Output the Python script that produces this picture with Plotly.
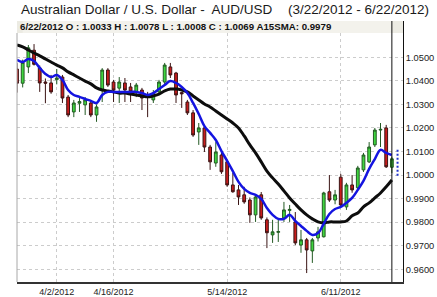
import plotly.graph_objects as go

dates = ["3/22/2012", "3/23/2012", "3/26/2012", "3/27/2012", "3/28/2012", "3/29/2012", "3/30/2012",
         "4/2/2012", "4/3/2012", "4/4/2012", "4/5/2012", "4/6/2012",
         "4/9/2012", "4/10/2012", "4/11/2012", "4/12/2012", "4/13/2012",
         "4/16/2012", "4/17/2012", "4/18/2012", "4/19/2012", "4/20/2012",
         "4/23/2012", "4/24/2012", "4/25/2012", "4/26/2012", "4/27/2012",
         "4/30/2012", "5/1/2012", "5/2/2012", "5/3/2012", "5/4/2012",
         "5/7/2012", "5/8/2012", "5/9/2012", "5/10/2012", "5/11/2012",
         "5/14/2012", "5/15/2012", "5/16/2012", "5/17/2012", "5/18/2012",
         "5/21/2012", "5/22/2012", "5/23/2012", "5/24/2012", "5/25/2012",
         "5/28/2012", "5/29/2012", "5/30/2012", "5/31/2012", "6/1/2012",
         "6/4/2012", "6/5/2012", "6/6/2012", "6/7/2012", "6/8/2012",
         "6/11/2012", "6/12/2012", "6/13/2012", "6/14/2012", "6/15/2012",
         "6/18/2012", "6/19/2012", "6/20/2012", "6/21/2012", "6/22/2012"]

opens = [1.0450, 1.0390, 1.0459, 1.0530, 1.0455, 1.0395, 1.0391,
         1.0405, 1.0416, 1.0331, 1.0268, 1.0305,
         1.0298, 1.0306, 1.0255, 1.0361, 1.0446,
         1.0395, 1.0369, 1.0391, 1.0374, 1.0353,
         1.0361, 1.0340, 1.0319, 1.0353, 1.0395,
         1.0459, 1.0433, 1.0350, 1.0310, 1.0264,
         1.0183, 1.0200, 1.0119, 1.0051, 1.0085,
         1.0056, 0.9958, 0.9937, 0.9916, 0.9894,
         0.9831, 0.9916, 0.9810, 0.9746, 0.9757,
         0.9818, 0.9850, 0.9801, 0.9703, 0.9725,
         0.9678, 0.9733, 0.9738, 0.9929, 0.9894,
         0.9991, 0.9865, 0.9958, 0.9946, 1.0022,
         1.0056, 1.0128, 1.0191, 1.0200, 1.0033]
highs = [1.0475, 1.0490, 1.0552, 1.0556, 1.0465, 1.0410, 1.0425,
         1.0450, 1.0425, 1.0340, 1.0319, 1.0327,
         1.0331, 1.0319, 1.0300, 1.0454, 1.0454,
         1.0404, 1.0416, 1.0412, 1.0391, 1.0391,
         1.0370, 1.0353, 1.0361, 1.0404, 1.0476,
         1.0476, 1.0438, 1.0353, 1.0319, 1.0276,
         1.0221, 1.0213, 1.0128, 1.0140, 1.0094,
         1.0064, 1.0009, 0.9958, 0.9950, 0.9905,
         0.9916, 0.9928, 0.9820, 0.9810, 0.9810,
         0.9886, 0.9873, 0.9843, 0.9767, 0.9733,
         0.9733, 0.9780, 0.9929, 1.0000, 0.9937,
         1.0005, 0.9967, 1.0000, 1.0039, 1.0094,
         1.0140, 1.0200, 1.0221, 1.0213, 1.0078]
lows = [1.0350, 1.0372, 1.0433, 1.0465, 1.0353, 1.0305, 1.0345,
        1.0385, 1.0306, 1.0246, 1.0246, 1.0268,
        1.0255, 1.0246, 1.0226, 1.0310, 1.0374,
        1.0310, 1.0306, 1.0310, 1.0310, 1.0331,
        1.0276, 1.0246, 1.0306, 1.0340, 1.0382,
        1.0412, 1.0306, 1.0285, 1.0255, 1.0162,
        1.0128, 1.0098, 1.0022, 1.0035, 1.0005,
        0.9950, 0.9925, 0.9873, 0.9878, 0.9797,
        0.9801, 0.9810, 0.9690, 0.9712, 0.9716,
        0.9801, 0.9801, 0.9703, 0.9670, 0.9584,
        0.9627, 0.9718, 0.9735, 0.9886, 0.9876,
        0.9865, 0.9852, 0.9925, 0.9937, 1.0013,
        1.0051, 1.0119, 1.0119, 1.0030, 1.0008]
closes = [1.0390, 1.0478, 1.0540, 1.0470, 1.0391, 1.0390, 1.0353,
          1.0412, 1.0327, 1.0255, 1.0306, 1.0312,
          1.0319, 1.0255, 1.0289, 1.0446, 1.0382,
          1.0361, 1.0395, 1.0361, 1.0353, 1.0382,
          1.0327, 1.0335, 1.0348, 1.0395, 1.0467,
          1.0425, 1.0340, 1.0345, 1.0264, 1.0170,
          1.0200, 1.0119, 1.0056, 1.0098, 1.0014,
          0.9958, 0.9929, 0.9907, 0.9886, 0.9831,
          0.9907, 0.9818, 0.9755, 0.9759, 0.9760,
          0.9852, 0.9854, 0.9712, 0.9725, 0.9682,
          0.9725, 0.9759, 0.9924, 0.9894, 0.9916,
          0.9873, 0.9958, 0.9937, 1.0030, 1.0085,
          1.0119, 1.0191, 1.0194, 1.0035, 1.0069]

short_sma = [1.0489, 1.0480, 1.0493, 1.0484, 1.0455, 1.0429, 1.0416,
             1.0425, 1.0404, 1.0361, 1.0340, 1.0332,
             1.0323, 1.0315, 1.0306, 1.0340, 1.0353,
             1.0353, 1.0353, 1.0353, 1.0353, 1.0353,
             1.0348, 1.0340, 1.0348, 1.0365, 1.0382,
             1.0399, 1.0391, 1.0374, 1.0348, 1.0306,
             1.0259, 1.0208, 1.0179, 1.0149, 1.0102,
             1.0060, 1.0017, 0.9971, 0.9941, 0.9924,
             0.9916, 0.9899, 0.9860, 0.9831, 0.9814,
             0.9814, 0.9831, 0.9805, 0.9784, 0.9763,
             0.9746, 0.9754, 0.9793, 0.9835, 0.9856,
             0.9865, 0.9882, 0.9903, 0.9937, 0.9975,
             1.0026, 1.0068, 1.0107, 1.0094, 1.0085]

sma15 = [1.0552, 1.0544, 1.0531, 1.0518, 1.0506, 1.0493, 1.0480,
         1.0467, 1.0455, 1.0438, 1.0425, 1.0412,
         1.0399, 1.0387, 1.0370, 1.0361, 1.0357,
         1.0353, 1.0348, 1.0348, 1.0344, 1.0340,
         1.0336, 1.0332, 1.0336, 1.0344, 1.0357,
         1.0365, 1.0365, 1.0361, 1.0353, 1.0336,
         1.0319, 1.0302, 1.0289, 1.0272, 1.0255,
         1.0238, 1.0221, 1.0200, 1.0166, 1.0128,
         1.0094, 1.0056, 1.0017, 0.9988, 0.9962,
         0.9933, 0.9903, 0.9877, 0.9852, 0.9831,
         0.9814, 0.9801, 0.9797, 0.9801, 0.9801,
         0.9801, 0.9805, 0.9827, 0.9839, 0.9865,
         0.9882, 0.9903, 0.9924, 0.9950, 0.9979]

proj_date = "6/25/2012"
proj_range = [1.0107, 0.9997]

x_ticks = ["4/2/2012", "4/16/2012", "5/14/2012", "6/11/2012"]
y_ticks = [0.96, 0.97, 0.98, 0.99, 1.00, 1.01, 1.02, 1.03, 1.04, 1.05]
y_range = [0.9546, 1.0654]

FONT = "Liberation Sans, Arial, Helvetica, sans-serif"

fig = go.Figure()
fig.add_trace(go.Candlestick(
    x=dates, open=opens, high=highs, low=lows, close=closes,
    increasing=dict(fillcolor="#3fd63f", line=dict(color="#235a23", width=1)),
    decreasing=dict(fillcolor="#c81c1c", line=dict(color="#3a1414", width=1)),
    whiskerwidth=0, showlegend=False, hoverinfo="skip"))
fig.add_trace(go.Scatter(x=dates, y=sma15, mode="lines",
                         line=dict(color="#0d0d0d", width=3, shape="spline"),
                         showlegend=False, hoverinfo="skip"))
fig.add_trace(go.Scatter(x=dates, y=short_sma, mode="lines",
                         line=dict(color="#1414e0", width=2.5, shape="spline"),
                         showlegend=False, hoverinfo="skip"))
fig.add_trace(go.Scatter(x=[proj_date, proj_date], y=proj_range, mode="lines",
                         line=dict(color="#2233cc", width=2, dash="2px,2px"),
                         showlegend=False, hoverinfo="skip"))

n = len(dates)
top_frac = (282 - 33) / 261.0

fig.update_layout(
    width=437, height=297,
    margin=dict(l=17, r=34, t=21, b=15, autoexpand=False),
    paper_bgcolor="white", plot_bgcolor="white",
    font=dict(family=FONT, size=9, color="#333333"),
    xaxis=dict(type="category", categoryorder="array", categoryarray=dates + [proj_date],
               range=[0, n + 0.96], rangeslider=dict(visible=False), automargin=False,
               tickmode="array", tickvals=x_ticks, ticktext=x_ticks,
               showgrid=True, gridcolor="#cccccc", griddash="dot", gridwidth=1,
               showline=True, linecolor="#333333", linewidth=2, ticks="",
               tickfont=dict(size=9, color="#222222"), zeroline=False),
    yaxis=dict(side="right", range=y_range, tickmode="array", tickvals=y_ticks,
               tickformat=".4f", automargin=False,
               showgrid=True, gridcolor="#cccccc", griddash="dot", gridwidth=1,
               showline=True, linecolor="#111111", linewidth=1, ticks="",
               tickfont=dict(size=9.3, color="#222222"), zeroline=False),
    shapes=[
        dict(type="rect", xref="paper", yref="paper", x0=0, x1=1, y0=top_frac, y1=1,
             fillcolor="#ecebe3", line=dict(width=0), layer="above"),
        dict(type="rect", xref="x", yref="paper", x0=dates[-1], x1=1, y0=top_frac, y1=1,
             fillcolor="#f3f2ec", line=dict(width=0), layer="above"),
        dict(type="line", xref="paper", yref="paper", x0=0, x1=0, y0=0, y1=top_frac,
             line=dict(color="#a8a8a8", width=1)),
        dict(type="line", xref="x", yref="paper", x0=dates[-1], x1=dates[-1], y0=0, y1=1,
             line=dict(color="#111111", width=1)),
    ],
    annotations=[
        dict(text="Australian Dollar / U.S. Dollar -  AUD/USD", xref="paper", yref="paper",
             x=(19 - 17) / 386.0, y=(282 - 9) / 261.0, xanchor="left", yanchor="middle",
             showarrow=False, font=dict(family=FONT, size=13.5, color="#1a1a1a")),
        dict(text="(3/22/2012 - 6/22/2012)", xref="paper", yref="paper",
             x=(286 - 17) / 386.0, y=(282 - 9) / 261.0, xanchor="left", yanchor="middle",
             showarrow=False, font=dict(family=FONT, size=13.5, color="#1a1a1a")),
        dict(text="<b>6/22/2012 O : 1.0033 H : 1.0078 L : 1.0008 C : 1.0069 A15SMA: 0.9979</b>",
             xref="paper", yref="paper", x=(18 - 17) / 386.0, y=(282 - 27) / 261.0,
             xanchor="left", yanchor="middle", showarrow=False,
             font=dict(family=FONT, size=9.7, color="#111111")),
    ],
)

fig.write_html("out.html")
